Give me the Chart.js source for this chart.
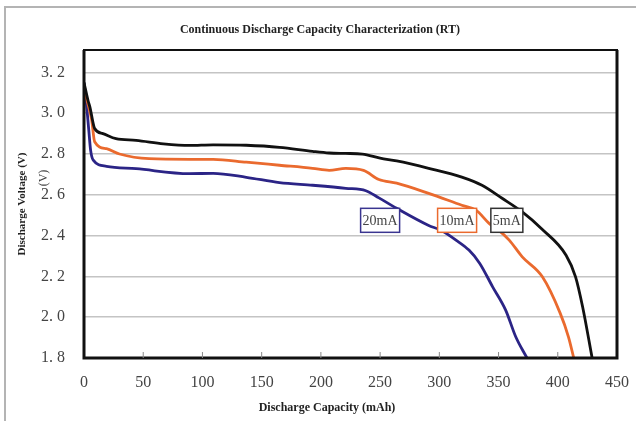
<!DOCTYPE html>
<html>
<head>
<meta charset="utf-8">
<script src="https://cdn.jsdelivr.net/npm/chart.js@4.4.1/dist/chart.umd.min.js"></script>
<style>
  html, body { margin: 0; padding: 0; background: #fff; }
  #wrap { width: 636px; height: 421px; position: relative; }
</style>
</head>
<body>
<div id="wrap"><canvas id="discharge-chart" width="636" height="421"></canvas></div>
<script>
// capacity (mAh) / voltage (V)
const cap5mA  = [0, 3.5, 5, 9, 16, 27, 44, 67, 89, 109, 137, 165, 193, 207, 221, 235, 250, 264, 291, 319, 336, 353, 370, 387, 407, 415, 421, 429];
const volt5mA = [3.15, 3.06, 3.03, 2.925, 2.90, 2.875, 2.867, 2.85, 2.842, 2.845, 2.843, 2.833, 2.813, 2.805, 2.803, 2.80, 2.78, 2.766, 2.73, 2.687, 2.647, 2.583, 2.516, 2.43, 2.304, 2.198, 2.05, 1.80];

const cap10mA  = [0, 4, 6.5, 9, 19, 30, 55, 89, 109, 137, 165, 193, 207, 221, 236, 249, 264, 291, 319, 331, 342, 350, 359, 370, 387, 402, 409, 413.5];
const volt10mA = [3.12, 3.03, 2.965, 2.86, 2.826, 2.80, 2.777, 2.774, 2.774, 2.76, 2.745, 2.73, 2.72, 2.73, 2.72, 2.675, 2.657, 2.607, 2.549, 2.525, 2.46, 2.427, 2.378, 2.296, 2.198, 2.02, 1.904, 1.80];

const cap20mA  = [0, 2, 4, 5.6, 7.8, 19, 44, 89, 109, 137, 165, 193, 221, 238, 249, 264, 291, 301, 314, 325, 334, 345, 356, 364.5, 374];
const volt20mA = [3.15, 3.05, 2.92, 2.818, 2.77, 2.74, 2.728, 2.704, 2.705, 2.686, 2.66, 2.647, 2.632, 2.62, 2.585, 2.534, 2.45, 2.427, 2.378, 2.329, 2.265, 2.149, 2.035, 1.904, 1.80];

const seriesNames = ['5mA', '10mA', '20mA'];
const seriesColors = ['#111111', '#ea6a2e', '#2b2486'];
const boxColors = ['#333333', '#ea6a2e', '#3a3590'];

// label boxes on the plot (anchored in data units)
const noteCapacity = [357, 315, 250];
const noteVoltage = 2.475;

const xTicks = [0, 50, 100, 150, 200, 250, 300, 350, 400, 450];

const chartTitle = 'Continuous Discharge Capacity Characterization (RT)';
const xTitle = 'Discharge Capacity (mAh)';

const SERIF = '"Liberation Serif", "DejaVu Serif", serif';

function toPoints(xs, ys) {
    return xs.map((x, i) => ({ x: x, y: ys[i] }));
}

const framePlugin = {
    id: 'frame',
    beforeDraw(chart) {
        const ctx = chart.ctx;
        ctx.save();
        ctx.strokeStyle = '#b4b4b4';
        ctx.lineWidth = 2;
        ctx.beginPath();
        ctx.moveTo(5, 421);
        ctx.lineTo(5, 7);
        ctx.lineTo(636, 7);
        ctx.stroke();

        // titles
        ctx.fillStyle = '#222';
        ctx.textAlign = 'center';
        ctx.textBaseline = 'middle';
        ctx.font = 'bold 12px ' + SERIF;
        ctx.fillText(chartTitle, 320, 30);
        ctx.fillText(xTitle, 327, 408);
        ctx.restore();
    },
    afterDraw(chart) {
        const ctx = chart.ctx;
        const a = chart.chartArea;
        const xs = chart.scales.x;
        ctx.save();
        // plot box
        ctx.strokeStyle = '#111';
        ctx.lineWidth = 2;
        ctx.strokeRect(a.left, a.top, a.right - a.left, a.bottom - a.top);
        ctx.lineWidth = 3;
        ctx.beginPath();
        ctx.moveTo(a.left, a.top);
        ctx.lineTo(a.left, a.bottom);
        ctx.lineTo(a.right, a.bottom);
        ctx.lineTo(a.right, a.top);
        ctx.stroke();
        // inward tick marks on the capacity axis
        ctx.strokeStyle = '#888';
        ctx.lineWidth = 1;
        xTicks.slice(1, -1).forEach(v => {
            const px = xs.getPixelForValue(v);
            ctx.beginPath();
            ctx.moveTo(px, a.bottom);
            ctx.lineTo(px, a.bottom - 6);
            ctx.stroke();
        });
        // stray unit mark beside the voltage ticks
        ctx.fillStyle = '#444';
        ctx.font = '12px ' + SERIF;
        ctx.textAlign = 'center';
        ctx.textBaseline = 'middle';
        ctx.translate(44, 178);
        ctx.rotate(-Math.PI / 2);
        ctx.fillText('(V)', 0, 0);
        ctx.restore();

        // series label boxes
        const ys = chart.scales.y;
        ctx.save();
        ctx.font = '14px ' + SERIF;
        ctx.textAlign = 'center';
        ctx.textBaseline = 'middle';
        seriesNames.forEach((name, i) => {
            const cx = xs.getPixelForValue(noteCapacity[i]);
            const cy = ys.getPixelForValue(noteVoltage);
            const w = ctx.measureText(name).width + 4;
            const h = 24;
            ctx.fillStyle = '#fff';
            ctx.fillRect(cx - w / 2, cy - h / 2, w, h);
            ctx.strokeStyle = boxColors[i];
            ctx.lineWidth = 1.5;
            ctx.strokeRect(cx - w / 2, cy - h / 2, w, h);
            ctx.fillStyle = '#444';
            ctx.fillText(name, cx, cy + 1);
        });
        ctx.restore();
    }
};

const ctx = document.getElementById('discharge-chart').getContext('2d');

new Chart(ctx, {
    type: 'line',
    data: {
        datasets: [
            { label: seriesNames[0], data: toPoints(cap5mA, volt5mA) },
            { label: seriesNames[1], data: toPoints(cap10mA, volt10mA) },
            { label: seriesNames[2], data: toPoints(cap20mA, volt20mA) }
        ].map((d, i) => Object.assign(d, {
            borderColor: seriesColors[i],
            borderWidth: 2.8,
            pointRadius: 0,
            cubicInterpolationMode: 'monotone',
            fill: false
        }))
    },
    options: {
        responsive: false,
        animation: false,
        layout: { padding: { left: 0, right: 8, top: 50, bottom: 0 } },
        plugins: {
            legend: { display: false },
            tooltip: { enabled: false },
            title: { display: false }
        },
        scales: {
            x: {
                type: 'linear',
                min: 0,
                max: 450,
                afterBuildTicks: scale => { scale.ticks = xTicks.map(v => ({ value: v })); },
                afterFit: scale => { scale.height = 63; },
                grid: { display: false },
                border: { display: false },
                ticks: {
                    color: '#444',
                    font: { family: SERIF, size: 16 },
                    padding: 7,
                    maxRotation: 0
                }
            },
            y: {
                min: 1.8,
                max: 3.31,
                afterBuildTicks: scale => {
                    scale.ticks = scale.ticks.filter(t => t.value <= 3.2001);
                },
                afterFit: scale => { scale.width = 84; },
                grid: {
                    color: '#c4c4c4',
                    lineWidth: 1.5,
                    drawTicks: false
                },
                border: { display: false },
                ticks: {
                    stepSize: 0.2,
                    color: '#444',
                    font: { family: SERIF, size: 16 },
                    padding: 19,
                    callback: v => v.toFixed(1).replace('.', '. ')
                },
                title: {
                    display: true,
                    text: 'Discharge Voltage (V)',
                    color: '#222',
                    font: { family: SERIF, size: 11, weight: 'bold' },
                    padding: { top: 16, bottom: 0 }
                }
            }
        }
    },
    plugins: [framePlugin]
});
</script>
</body>
</html>
